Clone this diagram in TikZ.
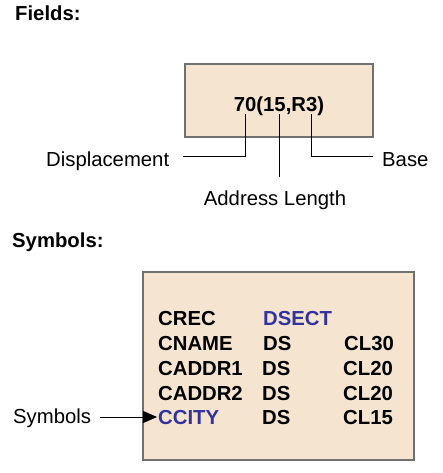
\documentclass[tikz,border=0pt]{standalone}
\usepackage{fontspec}
\setmainfont{Liberation Sans}
\usetikzlibrary{arrows.meta}
\definecolor{boxfill}{HTML}{F5E4D0}
\definecolor{boxline}{HTML}{707070}
\definecolor{symblue}{HTML}{3333A0}
\begin{document}
\begin{tikzpicture}[x=1pt,y=-1pt,
  panel/.style={draw=boxline,line width=1.4pt,fill=boxfill},
  lbl/.style={inner sep=0pt,anchor=base west,font=\fontsize{20.3}{24}\selectfont},
  blbl/.style={lbl,font=\fontsize{20.3}{24}\selectfont\bfseries},
  wire/.style={line width=1pt,black},
  every node/.style={inner sep=0pt}]
\useasboundingbox (0,0) rectangle (443,473);
% Fields
\node[blbl] (fields) at (15,21) {Fields:};
\draw[panel] (185,64) rectangle (373,137);
\coordinate (box1) at (279,100);
\node[blbl,anchor=base] (expr) at (279,112) {70(15,R3)};
\coordinate (d1) at (245,114);
\coordinate (d2) at (245,157);
\coordinate (d3) at (183,157);
\coordinate (a1) at (279,114);
\coordinate (a2) at (279,177);
\coordinate (b1) at (311,114);
\coordinate (b2) at (311,157);
\coordinate (b3) at (373,157);
\draw[wire] (d1) -- (d2) -- (d3);
\draw[wire] (a1) -- (a2);
\draw[wire] (b1) -- (b2) -- (b3);
\node[lbl] (disp) at (46,166) {Displacement};
\node[lbl] (base) at (382,166) {Base};
\node[lbl,anchor=base] (alen) at (275,205) {Address Length};
% Symbols
\node[blbl] (symbols) at (12,247) {Symbols:};
\draw[panel] (143,272) rectangle (414,460);
\node[blbl] (r1a) at (158,325) {CREC};
\node[blbl,text=symblue] (r1b) at (263,325) {DSECT};
\node[blbl] (r2a) at (158,350) {CNAME};
\node[blbl] (r2b) at (263,350) {DS};
\node[blbl] (r2c) at (344,350) {CL30};
\node[blbl] (r3a) at (158,375) {CADDR1};
\node[blbl] (r3b) at (262,375) {DS};
\node[blbl] (r3c) at (343,375) {CL20};
\node[blbl] (r4a) at (158,400) {CADDR2};
\node[blbl] (r4b) at (262,400) {DS};
\node[blbl] (r4c) at (343,400) {CL20};
\node[blbl,text=symblue] (r5a) at (158,424) {CCITY};
\node[blbl] (r5b) at (262,424) {DS};
\node[blbl] (r5c) at (343,424) {CL15};
\node[lbl] (symlbl) at (13,423) {Symbols};
\coordinate (arrS) at (100,417);
\coordinate (arrE) at (157,417);
\draw[wire,-{Triangle[length=14pt,width=12pt]}] (arrS) -- (arrE);
\end{tikzpicture}
\end{document}
